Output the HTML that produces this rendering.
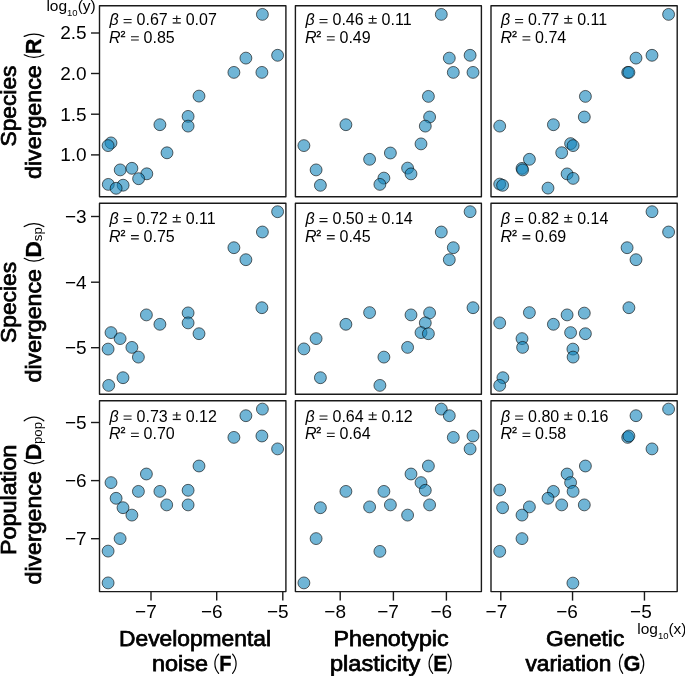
<!DOCTYPE html><html><head><meta charset="utf-8"><style>html,body{margin:0;padding:0;background:#fff;}svg{display:block;will-change:transform}text{font-family:"Liberation Sans",sans-serif;}</style></head><body>
<svg width="685" height="676" viewBox="0 0 685 676">
<rect width="685" height="676" fill="#fff"/>
<g fill="#1184BB" fill-opacity="0.6" stroke="#000" stroke-opacity="0.75" stroke-width="0.8">
<circle cx="262.4" cy="14.4" r="5.95"/>
<circle cx="277.6" cy="55.3" r="5.95"/>
<circle cx="245.9" cy="58.1" r="5.95"/>
<circle cx="233.9" cy="72.4" r="5.95"/>
<circle cx="261.9" cy="72.4" r="5.95"/>
<circle cx="199" cy="96.1" r="5.95"/>
<circle cx="188.1" cy="116.4" r="5.95"/>
<circle cx="188.1" cy="126.1" r="5.95"/>
<circle cx="159.9" cy="124.7" r="5.95"/>
<circle cx="167.0" cy="152.8" r="5.95"/>
<circle cx="111" cy="142.9" r="5.95"/>
<circle cx="108.1" cy="145.6" r="5.95"/>
<circle cx="120.2" cy="169.9" r="5.95"/>
<circle cx="131.9" cy="168.3" r="5.95"/>
<circle cx="146.8" cy="173.8" r="5.95"/>
<circle cx="138.6" cy="178.7" r="5.95"/>
<circle cx="108.3" cy="184.4" r="5.95"/>
<circle cx="123.1" cy="185.2" r="5.95"/>
<circle cx="116.1" cy="188.3" r="5.95"/>
<circle cx="441.3" cy="14.4" r="5.95"/>
<circle cx="470.1" cy="55.3" r="5.95"/>
<circle cx="449.3" cy="58.1" r="5.95"/>
<circle cx="453.3" cy="72.4" r="5.95"/>
<circle cx="473" cy="72.4" r="5.95"/>
<circle cx="428.4" cy="96.4" r="5.95"/>
<circle cx="429.6" cy="117" r="5.95"/>
<circle cx="425.3" cy="126.1" r="5.95"/>
<circle cx="345.9" cy="124.7" r="5.95"/>
<circle cx="421" cy="143.9" r="5.95"/>
<circle cx="303.9" cy="145.6" r="5.95"/>
<circle cx="390.4" cy="153" r="5.95"/>
<circle cx="369.6" cy="159.3" r="5.95"/>
<circle cx="316.1" cy="169.9" r="5.95"/>
<circle cx="407.6" cy="168.1" r="5.95"/>
<circle cx="411" cy="173.9" r="5.95"/>
<circle cx="383.9" cy="178.1" r="5.95"/>
<circle cx="320.4" cy="185.3" r="5.95"/>
<circle cx="379.9" cy="184.4" r="5.95"/>
<circle cx="668.6" cy="14.4" r="5.95"/>
<circle cx="652" cy="55.3" r="5.95"/>
<circle cx="636" cy="58.1" r="5.95"/>
<circle cx="627.7" cy="72.4" r="5.95"/>
<circle cx="628.9" cy="72.4" r="5.95"/>
<circle cx="585.4" cy="96.4" r="5.95"/>
<circle cx="584.3" cy="117" r="5.95"/>
<circle cx="553.4" cy="124.7" r="5.95"/>
<circle cx="499.7" cy="126.1" r="5.95"/>
<circle cx="570.6" cy="143.6" r="5.95"/>
<circle cx="573.1" cy="145.6" r="5.95"/>
<circle cx="561.7" cy="152.7" r="5.95"/>
<circle cx="529.4" cy="159.3" r="5.95"/>
<circle cx="522" cy="168.4" r="5.95"/>
<circle cx="522.6" cy="169.9" r="5.95"/>
<circle cx="567.1" cy="173.9" r="5.95"/>
<circle cx="573.1" cy="178.4" r="5.95"/>
<circle cx="499.7" cy="184.1" r="5.95"/>
<circle cx="502.6" cy="185.3" r="5.95"/>
<circle cx="548" cy="188.1" r="5.95"/>
<circle cx="277.6" cy="211.7" r="5.95"/>
<circle cx="262.4" cy="232" r="5.95"/>
<circle cx="233.9" cy="247.7" r="5.95"/>
<circle cx="245.9" cy="259.7" r="5.95"/>
<circle cx="261.9" cy="307.7" r="5.95"/>
<circle cx="146.4" cy="314.9" r="5.95"/>
<circle cx="188.1" cy="312.9" r="5.95"/>
<circle cx="188.1" cy="322.9" r="5.95"/>
<circle cx="159.9" cy="324.3" r="5.95"/>
<circle cx="199" cy="333.7" r="5.95"/>
<circle cx="111" cy="332.6" r="5.95"/>
<circle cx="120.1" cy="338.6" r="5.95"/>
<circle cx="108.1" cy="349.1" r="5.95"/>
<circle cx="131.9" cy="347.4" r="5.95"/>
<circle cx="138.4" cy="357.1" r="5.95"/>
<circle cx="123" cy="377.7" r="5.95"/>
<circle cx="108.7" cy="385.4" r="5.95"/>
<circle cx="470.1" cy="211.7" r="5.95"/>
<circle cx="441.3" cy="232" r="5.95"/>
<circle cx="453.3" cy="247.7" r="5.95"/>
<circle cx="449.3" cy="259.7" r="5.95"/>
<circle cx="473" cy="307.7" r="5.95"/>
<circle cx="369.6" cy="312.6" r="5.95"/>
<circle cx="411" cy="314.9" r="5.95"/>
<circle cx="429.6" cy="312.9" r="5.95"/>
<circle cx="425.3" cy="322.9" r="5.95"/>
<circle cx="345.9" cy="324.3" r="5.95"/>
<circle cx="421" cy="332.6" r="5.95"/>
<circle cx="428.4" cy="333.7" r="5.95"/>
<circle cx="316.1" cy="338.6" r="5.95"/>
<circle cx="303.9" cy="348.9" r="5.95"/>
<circle cx="407.6" cy="347.4" r="5.95"/>
<circle cx="383.9" cy="357.1" r="5.95"/>
<circle cx="320.4" cy="377.7" r="5.95"/>
<circle cx="379.9" cy="385.4" r="5.95"/>
<circle cx="652" cy="211.7" r="5.95"/>
<circle cx="668.6" cy="232" r="5.95"/>
<circle cx="627.1" cy="247.7" r="5.95"/>
<circle cx="636" cy="259.7" r="5.95"/>
<circle cx="628.9" cy="307.7" r="5.95"/>
<circle cx="529.4" cy="312.6" r="5.95"/>
<circle cx="567.1" cy="314.9" r="5.95"/>
<circle cx="584.3" cy="313.1" r="5.95"/>
<circle cx="499.7" cy="322.9" r="5.95"/>
<circle cx="553.4" cy="324.3" r="5.95"/>
<circle cx="570.6" cy="332.6" r="5.95"/>
<circle cx="585.4" cy="333.7" r="5.95"/>
<circle cx="522" cy="338.6" r="5.95"/>
<circle cx="522.6" cy="347.4" r="5.95"/>
<circle cx="572.9" cy="349.1" r="5.95"/>
<circle cx="573.1" cy="357.1" r="5.95"/>
<circle cx="502.9" cy="377.7" r="5.95"/>
<circle cx="499.7" cy="385.4" r="5.95"/>
<circle cx="262.4" cy="409.1" r="5.95"/>
<circle cx="245.9" cy="415.7" r="5.95"/>
<circle cx="233.9" cy="437.4" r="5.95"/>
<circle cx="261.9" cy="436" r="5.95"/>
<circle cx="277.6" cy="448.9" r="5.95"/>
<circle cx="199" cy="466" r="5.95"/>
<circle cx="146.4" cy="474" r="5.95"/>
<circle cx="111" cy="482.6" r="5.95"/>
<circle cx="138.4" cy="491.4" r="5.95"/>
<circle cx="159.9" cy="491.4" r="5.95"/>
<circle cx="188.1" cy="490.3" r="5.95"/>
<circle cx="116.1" cy="498.3" r="5.95"/>
<circle cx="123" cy="507.7" r="5.95"/>
<circle cx="166.7" cy="504.9" r="5.95"/>
<circle cx="188.1" cy="504.9" r="5.95"/>
<circle cx="131.9" cy="515.1" r="5.95"/>
<circle cx="120.1" cy="538.6" r="5.95"/>
<circle cx="108.1" cy="551.1" r="5.95"/>
<circle cx="108.1" cy="582.9" r="5.95"/>
<circle cx="441.3" cy="409.1" r="5.95"/>
<circle cx="449.3" cy="415.7" r="5.95"/>
<circle cx="453.3" cy="437.4" r="5.95"/>
<circle cx="473" cy="436" r="5.95"/>
<circle cx="470.1" cy="448.9" r="5.95"/>
<circle cx="428.4" cy="466" r="5.95"/>
<circle cx="411" cy="474" r="5.95"/>
<circle cx="421" cy="482.6" r="5.95"/>
<circle cx="425.3" cy="490.3" r="5.95"/>
<circle cx="345.9" cy="491.4" r="5.95"/>
<circle cx="383.9" cy="491.4" r="5.95"/>
<circle cx="320.4" cy="507.7" r="5.95"/>
<circle cx="369.6" cy="506.9" r="5.95"/>
<circle cx="390.4" cy="504.9" r="5.95"/>
<circle cx="429.6" cy="504.9" r="5.95"/>
<circle cx="407.6" cy="515.1" r="5.95"/>
<circle cx="316.1" cy="538.6" r="5.95"/>
<circle cx="379.9" cy="551.4" r="5.95"/>
<circle cx="303.9" cy="582.9" r="5.95"/>
<circle cx="668.6" cy="409.1" r="5.95"/>
<circle cx="636" cy="415.7" r="5.95"/>
<circle cx="627.7" cy="437.4" r="5.95"/>
<circle cx="628.9" cy="436" r="5.95"/>
<circle cx="652" cy="448.9" r="5.95"/>
<circle cx="585.4" cy="466" r="5.95"/>
<circle cx="567.1" cy="474" r="5.95"/>
<circle cx="570.6" cy="482.6" r="5.95"/>
<circle cx="499.7" cy="490" r="5.95"/>
<circle cx="553.4" cy="491.4" r="5.95"/>
<circle cx="573.1" cy="491.4" r="5.95"/>
<circle cx="548" cy="498.3" r="5.95"/>
<circle cx="502.6" cy="507.7" r="5.95"/>
<circle cx="529.4" cy="506.9" r="5.95"/>
<circle cx="561.7" cy="504.9" r="5.95"/>
<circle cx="584.3" cy="504.9" r="5.95"/>
<circle cx="522" cy="515.1" r="5.95"/>
<circle cx="522" cy="538.6" r="5.95"/>
<circle cx="499.7" cy="551.4" r="5.95"/>
<circle cx="572.9" cy="583.1" r="5.95"/>
</g>
<g fill="none" stroke="#1a1a1a" stroke-width="1.4" stroke-linejoin="round">
<rect x="99.5" y="5.8" width="186.4" height="191.0"/>
<rect x="295.4" y="5.8" width="186.0" height="191.0"/>
<rect x="491.0" y="5.8" width="186.2" height="191.0"/>
<rect x="99.5" y="203.2" width="186.4" height="191.0"/>
<rect x="295.4" y="203.2" width="186.0" height="191.0"/>
<rect x="491.0" y="203.2" width="186.2" height="191.0"/>
<rect x="99.5" y="400.8" width="186.4" height="190.8"/>
<rect x="295.4" y="400.8" width="186.0" height="190.8"/>
<rect x="491.0" y="400.8" width="186.2" height="190.8"/>
</g>
<g stroke="#1a1a1a" stroke-width="1.4">
<line x1="91" y1="33.0" x2="99.5" y2="33.0"/>
<line x1="91" y1="73.5" x2="99.5" y2="73.5"/>
<line x1="91" y1="114.2" x2="99.5" y2="114.2"/>
<line x1="91" y1="154.9" x2="99.5" y2="154.9"/>
<line x1="91" y1="216.5" x2="99.5" y2="216.5"/>
<line x1="91" y1="282.2" x2="99.5" y2="282.2"/>
<line x1="91" y1="347.7" x2="99.5" y2="347.7"/>
<line x1="91" y1="422.5" x2="99.5" y2="422.5"/>
<line x1="91" y1="480.6" x2="99.5" y2="480.6"/>
<line x1="91" y1="538.7" x2="99.5" y2="538.7"/>
<line x1="151.0" y1="591.6" x2="151.0" y2="600.6"/>
<line x1="216.7" y1="591.6" x2="216.7" y2="600.6"/>
<line x1="282.8" y1="591.6" x2="282.8" y2="600.6"/>
<line x1="340.2" y1="591.6" x2="340.2" y2="600.6"/>
<line x1="393.4" y1="591.6" x2="393.4" y2="600.6"/>
<line x1="446.4" y1="591.6" x2="446.4" y2="600.6"/>
<line x1="500.8" y1="591.6" x2="500.8" y2="600.6"/>
<line x1="572.55" y1="591.6" x2="572.55" y2="600.6"/>
<line x1="644.45" y1="591.6" x2="644.45" y2="600.6"/>
</g>
<g font-size="19" text-anchor="end">
<text x="86.6" y="39.4">2.5</text>
<text x="86.6" y="79.9">2.0</text>
<text x="86.6" y="120.6">1.5</text>
<text x="86.6" y="161.3">1.0</text>
<text x="86.6" y="222.9">−3</text>
<text x="86.6" y="288.6">−4</text>
<text x="86.6" y="354.1">−5</text>
<text x="86.6" y="428.9">−5</text>
<text x="86.6" y="487.0">−6</text>
<text x="86.6" y="545.1">−7</text>
</g>
<g font-size="19" text-anchor="end">
<text x="156.73" y="618.2">−7</text>
<text x="222.58" y="618.2">−6</text>
<text x="288.58" y="618.2">−5</text>
<text x="345.98" y="618.2">−8</text>
<text x="398.88" y="618.2">−7</text>
<text x="452.18" y="618.2">−6</text>
<text x="507.28" y="618.2">−7</text>
<text x="577.88" y="618.2">−6</text>
<text x="651.78" y="618.2">−5</text>
</g>
<g font-size="16">
<text x="109.50" y="25.20" font-style="italic">β</text>
<text x="136.60" y="25.20">0.67</text>
<text x="185.70" y="25.20">0.07</text>
<text x="109.10" y="42.60" font-style="italic">R</text>
<text x="120.40" y="36.80" font-size="9.0" stroke="#000" stroke-width="0.35">2</text>
<text x="143.60" y="42.60">0.85</text>
<text x="305.40" y="25.20" font-style="italic">β</text>
<text x="332.50" y="25.20">0.46</text>
<text x="381.60" y="25.20">0.11</text>
<text x="305.00" y="42.60" font-style="italic">R</text>
<text x="316.30" y="36.80" font-size="9.0" stroke="#000" stroke-width="0.35">2</text>
<text x="339.50" y="42.60">0.49</text>
<text x="501.00" y="25.20" font-style="italic">β</text>
<text x="528.10" y="25.20">0.77</text>
<text x="577.20" y="25.20">0.11</text>
<text x="500.60" y="42.60" font-style="italic">R</text>
<text x="511.90" y="36.80" font-size="9.0" stroke="#000" stroke-width="0.35">2</text>
<text x="535.10" y="42.60">0.74</text>
<text x="109.50" y="224.10" font-style="italic">β</text>
<text x="136.60" y="224.10">0.72</text>
<text x="185.70" y="224.10">0.11</text>
<text x="109.10" y="241.50" font-style="italic">R</text>
<text x="120.40" y="235.70" font-size="9.0" stroke="#000" stroke-width="0.35">2</text>
<text x="143.60" y="241.50">0.75</text>
<text x="305.40" y="224.10" font-style="italic">β</text>
<text x="332.50" y="224.10">0.50</text>
<text x="381.60" y="224.10">0.14</text>
<text x="305.00" y="241.50" font-style="italic">R</text>
<text x="316.30" y="235.70" font-size="9.0" stroke="#000" stroke-width="0.35">2</text>
<text x="339.50" y="241.50">0.45</text>
<text x="501.00" y="224.10" font-style="italic">β</text>
<text x="528.10" y="224.10">0.82</text>
<text x="577.20" y="224.10">0.14</text>
<text x="500.60" y="241.50" font-style="italic">R</text>
<text x="511.90" y="235.70" font-size="9.0" stroke="#000" stroke-width="0.35">2</text>
<text x="535.10" y="241.50">0.69</text>
<text x="109.50" y="421.70" font-style="italic">β</text>
<text x="136.60" y="421.70">0.73</text>
<text x="185.70" y="421.70">0.12</text>
<text x="109.10" y="439.10" font-style="italic">R</text>
<text x="120.40" y="433.30" font-size="9.0" stroke="#000" stroke-width="0.35">2</text>
<text x="143.60" y="439.10">0.70</text>
<text x="305.40" y="421.70" font-style="italic">β</text>
<text x="332.50" y="421.70">0.64</text>
<text x="381.60" y="421.70">0.12</text>
<text x="305.00" y="439.10" font-style="italic">R</text>
<text x="316.30" y="433.30" font-size="9.0" stroke="#000" stroke-width="0.35">2</text>
<text x="339.50" y="439.10">0.64</text>
<text x="501.00" y="421.70" font-style="italic">β</text>
<text x="528.10" y="421.70">0.80</text>
<text x="577.20" y="421.70">0.16</text>
<text x="500.60" y="439.10" font-style="italic">R</text>
<text x="511.90" y="433.30" font-size="9.0" stroke="#000" stroke-width="0.35">2</text>
<text x="535.10" y="439.10">0.58</text>
</g>
<g stroke="#111" fill="none">
<path d="M123.60 19.54H131.60M123.60 22.68H131.60M131.00 36.70H138.80M131.00 40.00H138.80" stroke-width="1.1"/>
<path d="M172.70 18.56H180.80M176.75 15.60V21.90" stroke-width="1.1"/>
<path d="M172.70 22.95H180.80" stroke-width="1.3"/>
<path d="M319.50 19.54H327.50M319.50 22.68H327.50M326.90 36.70H334.70M326.90 40.00H334.70" stroke-width="1.1"/>
<path d="M368.60 18.56H376.70M372.65 15.60V21.90" stroke-width="1.1"/>
<path d="M368.60 22.95H376.70" stroke-width="1.3"/>
<path d="M515.10 19.54H523.10M515.10 22.68H523.10M522.50 36.70H530.30M522.50 40.00H530.30" stroke-width="1.1"/>
<path d="M564.20 18.56H572.30M568.25 15.60V21.90" stroke-width="1.1"/>
<path d="M564.20 22.95H572.30" stroke-width="1.3"/>
<path d="M123.60 218.44H131.60M123.60 221.58H131.60M131.00 235.60H138.80M131.00 238.90H138.80" stroke-width="1.1"/>
<path d="M172.70 217.46H180.80M176.75 214.50V220.80" stroke-width="1.1"/>
<path d="M172.70 221.85H180.80" stroke-width="1.3"/>
<path d="M319.50 218.44H327.50M319.50 221.58H327.50M326.90 235.60H334.70M326.90 238.90H334.70" stroke-width="1.1"/>
<path d="M368.60 217.46H376.70M372.65 214.50V220.80" stroke-width="1.1"/>
<path d="M368.60 221.85H376.70" stroke-width="1.3"/>
<path d="M515.10 218.44H523.10M515.10 221.58H523.10M522.50 235.60H530.30M522.50 238.90H530.30" stroke-width="1.1"/>
<path d="M564.20 217.46H572.30M568.25 214.50V220.80" stroke-width="1.1"/>
<path d="M564.20 221.85H572.30" stroke-width="1.3"/>
<path d="M123.60 416.04H131.60M123.60 419.18H131.60M131.00 433.20H138.80M131.00 436.50H138.80" stroke-width="1.1"/>
<path d="M172.70 415.06H180.80M176.75 412.10V418.40" stroke-width="1.1"/>
<path d="M172.70 419.45H180.80" stroke-width="1.3"/>
<path d="M319.50 416.04H327.50M319.50 419.18H327.50M326.90 433.20H334.70M326.90 436.50H334.70" stroke-width="1.1"/>
<path d="M368.60 415.06H376.70M372.65 412.10V418.40" stroke-width="1.1"/>
<path d="M368.60 419.45H376.70" stroke-width="1.3"/>
<path d="M515.10 416.04H523.10M515.10 419.18H523.10M522.50 433.20H530.30M522.50 436.50H530.30" stroke-width="1.1"/>
<path d="M564.20 415.06H572.30M568.25 412.10V418.40" stroke-width="1.1"/>
<path d="M564.20 419.45H572.30" stroke-width="1.3"/>
</g>
<g font-size="22" stroke="#000" stroke-width="0.75">
<text transform="rotate(-90)" x="-146.50" y="16.3" textLength="80.93" lengthAdjust="spacingAndGlyphs">Species</text>
<text transform="rotate(-90)" x="-179.00" y="41.4" textLength="113.73" lengthAdjust="spacingAndGlyphs">divergence</text>
<text transform="rotate(-90)" x="-343.00" y="16.3" textLength="81.13" lengthAdjust="spacingAndGlyphs">Species</text>
<text transform="rotate(-90)" x="-382.50" y="41.3" textLength="113.49" lengthAdjust="spacingAndGlyphs">divergence</text>
<text transform="rotate(-90)" x="-555.00" y="16.3" textLength="110.37" lengthAdjust="spacingAndGlyphs">Population</text>
<text transform="rotate(-90)" x="-584.50" y="41.3" textLength="113.34" lengthAdjust="spacingAndGlyphs">divergence</text>
<text x="119.00" y="646.0" textLength="152.02" lengthAdjust="spacingAndGlyphs">Developmental</text>
<text x="152.00" y="670.7" textLength="55.98" lengthAdjust="spacingAndGlyphs">noise</text>
<text x="333.50" y="646.0" textLength="115.17" lengthAdjust="spacingAndGlyphs">Phenotypic</text>
<text x="330.00" y="670.7" textLength="90.39" lengthAdjust="spacingAndGlyphs">plasticity</text>
<text x="546.00" y="646.0" textLength="78.26" lengthAdjust="spacingAndGlyphs">Genetic</text>
<text x="525.50" y="670.7" textLength="85.82" lengthAdjust="spacingAndGlyphs">variation</text>
</g>
<g font-size="22" font-weight="bold" stroke="#000" stroke-width="0.35">
<text transform="translate(41.4,54.15) rotate(-90) scale(0.981,1)">R</text>
<text transform="translate(41.3,257.42) rotate(-90) scale(1.031,1)">D</text>
<text transform="translate(41.3,460.14) rotate(-90) scale(1.046,1)">D</text>
<text transform="translate(219.35,670.7) scale(0.914,1)">F</text>
<text transform="translate(433.19,670.7) scale(0.956,1)">E</text>
<text transform="translate(623.41,670.7) scale(0.990,1)">G</text>
</g>
<g font-size="13.3">
<text transform="translate(42.0,241.27) rotate(-90)">sp</text>
<text transform="translate(42.0,444.05) rotate(-90)">pop</text>
</g>
<g fill="none" stroke="#000" stroke-width="1.2" stroke-linecap="round">
<path d="M24.20 54.80A20.46 20.46 0 0 0 43.80 54.80"/>
<path d="M24.20 36.40A23.92 23.92 0 0 1 43.80 36.40"/>
<path d="M24.20 258.30A18.01 18.01 0 0 0 43.80 258.30"/>
<path d="M24.20 226.60A17.51 17.51 0 0 1 43.80 226.60"/>
<path d="M24.20 460.60A17.04 17.04 0 0 0 43.80 460.60"/>
<path d="M24.20 420.80A14.83 14.83 0 0 1 43.80 420.80"/>
<path d="M218.60 654.20A14.17 14.17 0 0 0 218.60 673.30"/>
<path d="M232.60 654.20A14.78 14.78 0 0 1 232.60 673.30"/>
<path d="M432.70 654.20A14.47 14.47 0 0 0 432.70 673.30"/>
<path d="M447.90 654.20A15.85 15.85 0 0 1 447.90 673.30"/>
<path d="M622.70 654.20A15.85 15.85 0 0 0 622.70 673.30"/>
<path d="M640.50 654.20A15.85 15.85 0 0 1 640.50 673.30"/>
</g>
<text x="46.4" y="11" font-size="15.5">log<tspan font-size="9.5" dy="5.2">10</tspan><tspan dy="-5.2">(y)</tspan></text>
<text x="637.2" y="633.6" font-size="15.5">log<tspan font-size="9.5" dy="5.2">10</tspan><tspan dy="-5.2">(x)</tspan></text>
</svg></body></html>
